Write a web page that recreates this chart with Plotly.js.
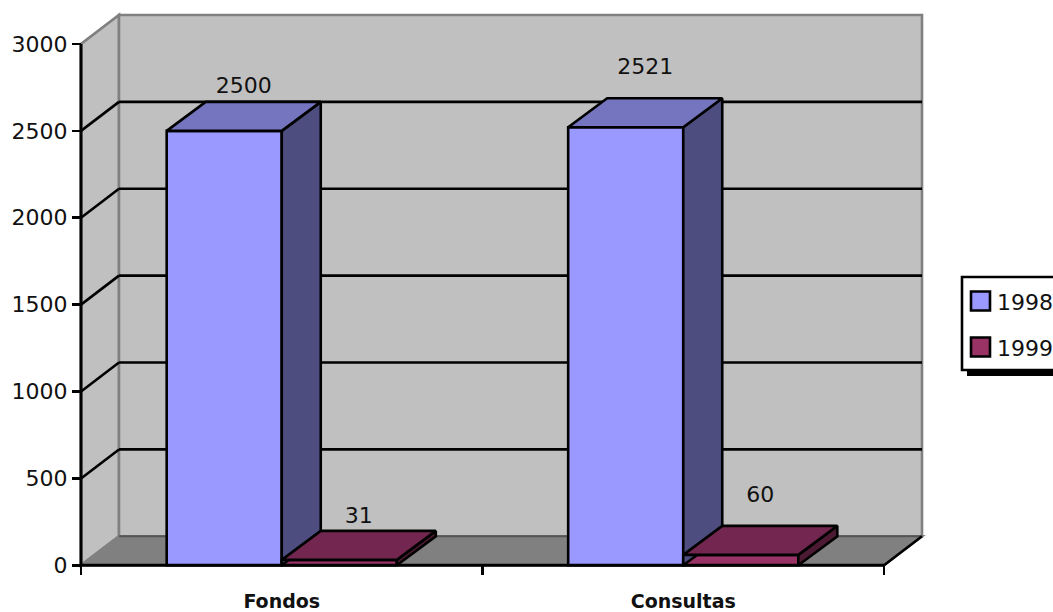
<!DOCTYPE html>
<html>
<head>
<meta charset="utf-8">
<script src="https://cdn.plot.ly/plotly-3.0.1.min.js"></script>
<style>html,body{margin:0;padding:0;background:#fff;overflow:hidden}#c{width:1053px;height:612px}</style>
</head>
<body>
<div id="c"></div>
<script>
const categories = ['Fondos', 'Consultas'];
const seriesNames = ['1998', '1999'];
const values1998 = [2500, 2521];
const values1999 = [31, 60];
const yTicks = [0, 500, 1000, 1500, 2000, 2500, 3000];
const gridValues = [500, 1000, 1500, 2000, 2500];
const labelLift = [[14.5, 30], [13.5, 29.5]]; // px above the bar's back edge

const W = 1053, H = 612;
const px0 = 81, pxUnit = 401.5;      // x=0 at px 81, one category = 401.5 px
const py0 = 565.3, pyUnit = 521.3 / 3000; // y=0 at px 565.3
const wallDx = 38 / pxUnit, wallDy = 29 / pyUnit;
const barDx = 39 / pxUnit, barDy = 29 / pyUnit;
const barW = 0.2866, yMax = 3000, xMax = 2;
const lw = 2.6;

const faceStyles = [
  {front: '#9999ff', top: '#7474bf', side: '#4d4d80'},
  {front: '#993366', top: '#732650', side: '#4d1a33'}
];

const centers = categories.map((_, i) => i + 0.5);
const allValues = [values1998, values1999];
const traces = [];

allValues.forEach((vals, s) => {
  traces.push({
    type: 'bar', name: seriesNames[s], x: centers, y: vals,
    width: barW, offset: s === 0 ? -barW : 0,
    marker: {color: faceStyles[s].front, line: {color: '#000', width: lw}},
    showlegend: false, hoverinfo: 'y'
  });
});
allValues.forEach((vals, s) => {
  vals.forEach((v, i) => {
    const a = centers[i] + (s === 0 ? -barW : 0), b = a + barW;
    traces.push({
      type: 'scatter', mode: 'lines', fill: 'toself', fillcolor: faceStyles[s].side,
      x: [b, b + barDx, b + barDx, b, b], y: [0, barDy, v + barDy, v, 0],
      line: {color: '#000', width: lw}, showlegend: false, hoverinfo: 'skip'
    });
    traces.push({
      type: 'scatter', mode: 'lines', fill: 'toself', fillcolor: faceStyles[s].top,
      x: [a, b, b + barDx, a + barDx, a], y: [v, v, v + barDy, v + barDy, v],
      line: {color: '#000', width: lw}, showlegend: false, hoverinfo: 'skip'
    });
  });
});

const font = {family: '"DejaVu Sans", sans-serif', size: 22, color: '#111'};
traces.push({
  type: 'scatter', mode: 'text',
  x: allValues.flatMap((vals, s) => vals.map((_, i) => centers[i] + (s === 0 ? -barW / 2 : barW / 2) + barDx / 2)),
  y: allValues.flatMap((vals, s) => vals.map((v, i) => v + barDy + labelLift[s][i] / pyUnit)),
  text: allValues.flatMap(vals => vals.map(String)),
  textposition: 'middle center', textfont: font,
  showlegend: false, hoverinfo: 'skip', cliponaxis: false
});

function poly(pts, fill, lineColor, lineW, layer) {
  return {
    type: 'path', xref: 'x', yref: 'y', layer: layer || 'below',
    path: 'M' + pts.map(p => p[0] + ',' + p[1]).join('L') + 'Z',
    fillcolor: fill, line: {color: lineColor, width: lineW}
  };
}
function seg(x0, y0, x1, y1, color, w, layer) {
  return {type: 'line', xref: 'x', yref: 'y', layer: layer || 'below', x0, y0, x1, y1, line: {color, width: w}};
}
const shapes = [
  poly([[0, 0], [wallDx, wallDy], [wallDx, yMax + wallDy], [0, yMax]], '#c0c0c0', '#808080', lw),
  poly([[wallDx, wallDy], [xMax + wallDx, wallDy], [xMax + wallDx, yMax + wallDy], [wallDx, yMax + wallDy]], '#c0c0c0', '#808080', lw),
  poly([[0, 0], [xMax, 0], [xMax + wallDx, wallDy], [wallDx, wallDy]], '#808080', '#808080', lw),
  seg(wallDx, wallDy, xMax + wallDx, wallDy, '#555', 2)
];
gridValues.forEach(v => {
  shapes.push(seg(0, v, wallDx, v + wallDy, '#000', lw));
  shapes.push(seg(wallDx, v + wallDy, xMax + wallDx, v + wallDy, '#000', lw));
});
shapes.push(seg(xMax, 0, xMax + wallDx, wallDy, '#000', lw));
shapes.push(seg(0, 0, 0, yMax, '#000', 3, 'above'));
shapes.push(seg(0, 0, xMax, 0, '#000', 3, 'above'));

// legend box, measured in paper space
const fx = p => p / W, fy = p => 1 - p / H;
const paperRect = (x0, y0, x1, y1, fill, lc, w) => ({
  type: 'rect', xref: 'paper', yref: 'paper', layer: 'above',
  x0: fx(x0), x1: fx(x1), y0: fy(y0), y1: fy(y1),
  fillcolor: fill, line: {color: lc, width: w}
});
shapes.push(paperRect(967, 369, 1060, 376, '#000', '#000', 0));
shapes.push(paperRect(962, 277, 1060, 370, '#fff', '#000', 2.6));
const annotations = [];
seriesNames.forEach((name, s) => {
  const cy = 301 + s * 46;
  shapes.push(paperRect(971, cy - 9.5, 990, cy + 9.5, faceStyles[s].front, '#000', 2.6));
  annotations.push({
    xref: 'paper', yref: 'paper', x: fx(996), y: fy(cy + 1), xanchor: 'left', yanchor: 'middle',
    text: name, showarrow: false, font, borderpad: 0
  });
});

const layout = {
  width: W, height: H, autosize: false,
  margin: {l: 0, r: 0, t: 0, b: 0, pad: 0},
  paper_bgcolor: '#fff', plot_bgcolor: 'rgba(0,0,0,0)',
  barmode: 'overlay', showlegend: false,
  xaxis: {
    range: [-px0 / pxUnit, (W - px0) / pxUnit], anchor: 'free', position: (H - py0) / H,
    tickmode: 'array', tickvals: centers, ticktext: categories, ticks: '',
    ticklabelstandoff: 23,
    tickfont: {family: '"DejaVu Sans", sans-serif', size: 19, color: '#111', weight: 'bold'},
    minor: {tickmode: 'array', tickvals: [0, 1, 2], ticks: 'outside', ticklen: 9, tickwidth: 2.6, tickcolor: '#000', showgrid: false},
    showgrid: false, zeroline: false, showline: false, fixedrange: true
  },
  yaxis: {
    range: [(py0 - H) / pyUnit, py0 / pyUnit], anchor: 'free', position: px0 / W,
    tickmode: 'array', tickvals: yTicks, ticks: 'outside', ticklen: 9, tickwidth: 2.6, tickcolor: '#000',
    tickfont: font, showgrid: false, zeroline: false, showline: false, fixedrange: true
  },
  shapes, annotations
};
Plotly.newPlot('c', traces, layout, {displayModeBar: false, staticPlot: true});
</script>
</body>
</html>
